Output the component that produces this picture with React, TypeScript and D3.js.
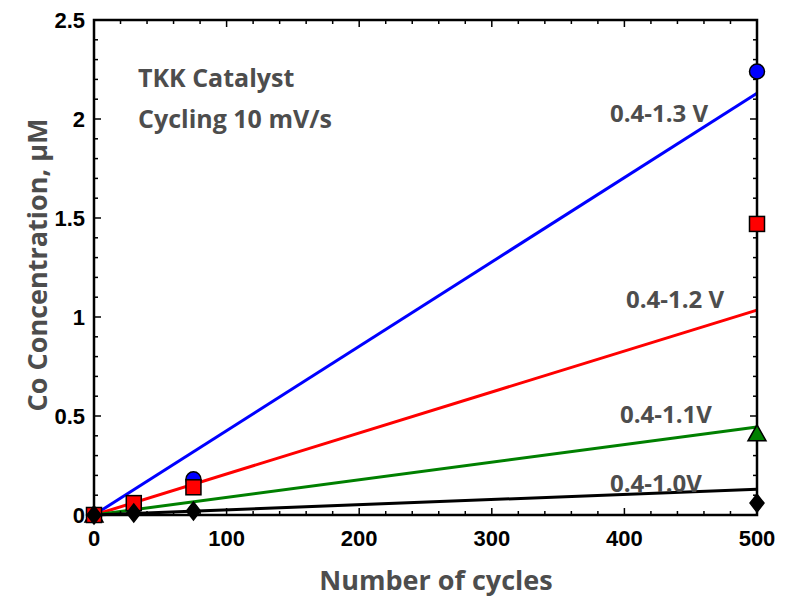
import React from "react";
import * as d3 from "d3";

// measured points
const cycles13 = [0, 75, 500];
const conc13 = [0, 0.18, 2.24];
const cycles12 = [0, 30, 75, 500];
const conc12 = [0, 0.06, 0.14, 1.47];
const cycles11 = [0, 500];
const conc11 = [0, 0.41];
const cycles10 = [0, 30, 75, 500];
const conc10 = [0, 0.01, 0.02, 0.06];

// linear fits (value at 0 and 500 cycles)
const fitX = [0, 500];
const fit13 = [0, 2.13];
const fit12 = [0, 1.035];
const fit11 = [0, 0.445];
const fit10 = [0, 0.13];

const xTicks = [0, 100, 200, 300, 400, 500];
const yTicks = [0, 0.5, 1, 1.5, 2, 2.5];

const W = 787;
const H = 598;
const margin = { left: 94, right: 30, top: 20, bottom: 83 };

const x = d3.scaleLinear().domain([0, 500]).range([margin.left, W - margin.right]);
const y = d3.scaleLinear().domain([0, 2.5]).range([H - margin.bottom, margin.top]);

const labelFont = "'Open Sans', 'Lato', sans-serif";
const tickFont = "'Liberation Sans', Arial, sans-serif";
const gray = "#4d4d4d";

function fitLine(vals: number[]) {
  const line = d3.line<number>().x((d, i) => x(fitX[i])).y(d => y(d));
  return line(vals) || "";
}

export default function App() {
  const x0 = x(0), x1 = x(500), y0 = y(0), y1 = y(2.5);
  const xMinor = d3.range(0, 501, 20);
  const yMinor = d3.range(0, 2.51, 0.1);

  // drawing order: triangles, circles, squares, diamonds on top
  const series = [
    { xs: cycles11, ys: conc11, shape: "triangle", fill: "#008000" },
    { xs: cycles13, ys: conc13, shape: "circle", fill: "#0000ff" },
    { xs: cycles12, ys: conc12, shape: "square", fill: "#ff0000" },
    { xs: cycles10, ys: conc10, shape: "diamond", fill: "#000" },
  ];

  const marker = (shape: string, cx: number, cy: number, fill: string, key: string) => {
    const st = { fill, stroke: "#000", strokeWidth: 1.5 };
    if (shape === "circle") return <circle key={key} cx={cx} cy={cy} r={7.5} {...st} />;
    if (shape === "square") return <rect key={key} x={cx - 7.5} y={cy - 7.5} width={15} height={15} {...st} />;
    if (shape === "triangle")
      return <path key={key} d={`M${cx},${cy - 9}L${cx + 9},${cy + 7}L${cx - 9},${cy + 7}Z`} {...st} />;
    return <path key={key} d={`M${cx},${cy - 9}L${cx + 7},${cy}L${cx},${cy + 9}L${cx - 7},${cy}Z`} {...st} />;
  };

  return (
    <svg width={W} height={H} style={{ display: "block", position: "absolute", left: 0, top: 0 }}>
      <rect x={0} y={0} width={W} height={H} fill="#fff" />

      {/* fit lines */}
      <path d={fitLine(fit13)} stroke="#0000ff" strokeWidth={3} fill="none" />
      <path d={fitLine(fit12)} stroke="#ff0000" strokeWidth={3} fill="none" />
      <path d={fitLine(fit11)} stroke="#008000" strokeWidth={3} fill="none" />
      <path d={fitLine(fit10)} stroke="#000" strokeWidth={3} fill="none" />

      {/* ticks */}
      {xMinor.map(v => {
        const major = v % 100 === 0;
        const l = major ? 7 : 4;
        return (
          <g key={"xt" + v} stroke="#000" strokeWidth={1.5}>
            <line x1={x(v)} x2={x(v)} y1={y0} y2={y0 - l} />
            <line x1={x(v)} x2={x(v)} y1={y1} y2={y1 + l} />
          </g>
        );
      })}
      {yMinor.map(v => {
        const major = Math.abs(v * 2 - Math.round(v * 2)) < 1e-6;
        const l = major ? 7 : 4;
        return (
          <g key={"yt" + v.toFixed(1)} stroke="#000" strokeWidth={1.5}>
            <line x1={x0} x2={x0 + l} y1={y(v)} y2={y(v)} />
            <line x1={x1} x2={x1 - l} y1={y(v)} y2={y(v)} />
          </g>
        );
      })}

      {/* frame */}
      <rect x={x0} y={y1} width={x1 - x0} height={y0 - y1} fill="none" stroke="#000" strokeWidth={2.5} />

      {/* markers */}
      {series.map((s, si) =>
        s.xs.map((cv, i) => marker(s.shape, x(cv), y(s.ys[i]), s.fill, `m${si}-${i}`))
      )}

      {/* tick labels */}
      {xTicks.map(v => (
        <text key={"xl" + v} x={x(v)} y={y0 + 31} textAnchor="middle" fontFamily={tickFont}
          fontWeight="bold" fontSize={22} fill="#000">{v}</text>
      ))}
      {yTicks.map(v => (
        <text key={"yl" + v} x={x0 - 9} y={y(v) + 8} textAnchor="end" fontFamily={tickFont}
          fontWeight="bold" fontSize={22} fill="#000">{v}</text>
      ))}

      {/* axis titles */}
      <text x={436} y={590} textAnchor="middle" fontFamily={labelFont} fontWeight="bold"
        fontSize={27} fill={gray}>Number of cycles</text>
      <text transform={`translate(47, 265) rotate(-90)`} textAnchor="middle"
        fontFamily={labelFont} fontWeight="bold" fontSize={27} fill={gray}>Co Concentration, µM</text>

      {/* annotations */}
      <text x={138} y={87} fontFamily={labelFont} fontWeight="bold" fontSize={25} fill={gray}>TKK Catalyst</text>
      <text x={138} y={128} fontFamily={labelFont} fontWeight="bold" fontSize={25} fill={gray}>Cycling 10 mV/s</text>
      <text x={610} y={122} fontFamily={labelFont} fontWeight="bold" fontSize={24} fill={gray}>0.4-1.3 V</text>
      <text x={626} y={308} fontFamily={labelFont} fontWeight="bold" fontSize={24} fill={gray}>0.4-1.2 V</text>
      <text x={620} y={423} fontFamily={labelFont} fontWeight="bold" fontSize={24} fill={gray}>0.4-1.1V</text>
      <text x={610} y={492} fontFamily={labelFont} fontWeight="bold" fontSize={24} fill={gray}>0.4-1.0V</text>
    </svg>
  );
}
